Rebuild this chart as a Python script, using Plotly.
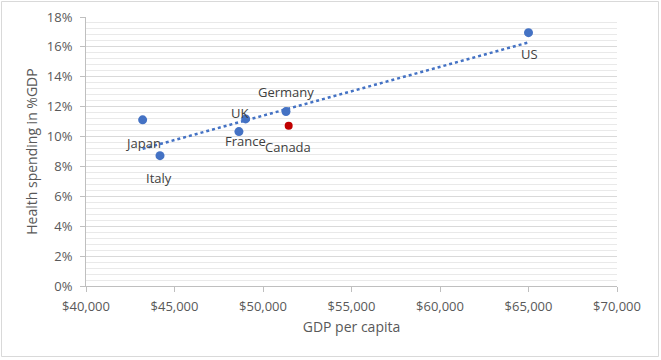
import numpy as np
import plotly.graph_objects as go

countries = ["Japan", "Italy", "France", "UK", "Germany", "Canada", "US"]
gdp_per_capita = [43200, 44180, 48640, 49020, 51300, 51450, 65000]
health_pct_gdp = [0.1112, 0.0872, 0.1033, 0.1118, 0.1167, 0.1073, 0.1695]
highlight = ["Canada"]

# label offsets in px (dx, dy down-positive)
label_offsets = {"Japan": (0, 23), "Italy": (-1, 22), "France": (7, 9), "UK": (-6, -6),
                 "Germany": (0, -20), "Canada": (-1, 21), "US": (1, 21)}

blue = "#4472C4"
red = "#C00000"
font_family = "Open Sans"
txt = "#595959"

fig = go.Figure()

# trendline (linear fit over all points)
xs = np.array(gdp_per_capita, dtype=float)
ys = np.array(health_pct_gdp, dtype=float)
m, b = np.polyfit(xs, ys, 1)
tx = np.array([xs.min(), xs.max()])
fig.add_trace(go.Scatter(x=tx, y=m * tx + b, mode="lines",
                         line=dict(color=blue, width=2.5, dash="dot"),
                         hoverinfo="skip", showlegend=False))

bx = [x for x, c in zip(gdp_per_capita, countries) if c not in highlight]
by = [y for y, c in zip(health_pct_gdp, countries) if c not in highlight]
rx = [x for x, c in zip(gdp_per_capita, countries) if c in highlight]
ry = [y for y, c in zip(health_pct_gdp, countries) if c in highlight]

fig.add_trace(go.Scatter(x=bx, y=by, mode="markers",
                         marker=dict(color=blue, size=9), showlegend=False))
fig.add_trace(go.Scatter(x=rx, y=ry, mode="markers",
                         marker=dict(color=red, size=8), showlegend=False))

for c, x, y in zip(countries, gdp_per_capita, health_pct_gdp):
    dx, dy = label_offsets[c]
    fig.add_annotation(x=x, y=y, text=c, showarrow=False, xshift=dx, yshift=-dy,
                       font=dict(family=font_family, size=13, color="#404040"))

L, R, T, B = 86, 44, 17, 74
W, H = 661, 360
pw, ph = W - L - R, H - T - B
fig.add_shape(type="rect", xref="paper", yref="paper",
              x0=-(L - 1.5) / pw, x1=1 + (R - 2.5) / pw, y0=-(B - 3.5) / ph, y1=1 + (T - 1.5) / ph,
              line=dict(color="#d9d9d9", width=1), layer="below")

fig.update_layout(
    width=W, height=H,
    margin=dict(l=L, r=R, t=T, b=B, autoexpand=False),
    paper_bgcolor="white", plot_bgcolor="white",
    font=dict(family=font_family, size=13, color=txt),
    xaxis=dict(range=[40000, 70000], dtick=5000, tickprefix="$", tickformat=",",
               showgrid=False, zeroline=False, showline=True, linecolor="#bfbfbf",
               ticks="outside", ticklen=5, tickcolor="#bfbfbf", automargin=False,
               ticklabelstandoff=3,
               title=dict(text="GDP per capita", font=dict(size=14, color=txt), standoff=8)),
    yaxis=dict(range=[0, 0.18], dtick=0.02, tickformat=".0%",
               showgrid=True, gridcolor="#d9d9d9", zeroline=False,
               showline=True, linecolor="#bfbfbf", automargin=False,
               ticks="outside", ticklen=5, tickcolor="#bfbfbf",
               ticklabelstandoff=5,
               minor=dict(dtick=0.004, showgrid=True, gridcolor="#e9e9e9"),
               title=dict(text="Health spending in %GDP", font=dict(size=14, color=txt), standoff=5)),
)

fig.write_html("out.html", config={"displayModeBar": False},
               post_script="document.body.style.margin='0px';")
